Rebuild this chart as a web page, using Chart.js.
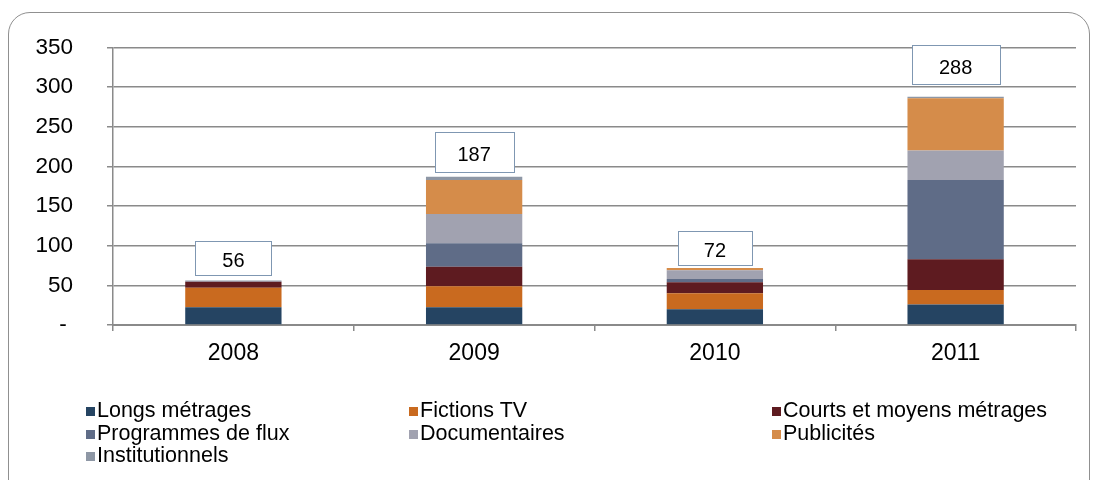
<!DOCTYPE html>
<html>
<head>
<meta charset="utf-8">
<script src="https://cdn.jsdelivr.net/npm/chart.js"></script>
<style>
  html, body { margin: 0; padding: 0; background: #fff; }
  #wrap { position: relative; width: 1093px; height: 480px; overflow: hidden; font-family: Arial, "Liberation Sans", sans-serif; }
  #frame { position: absolute; left: 8px; top: 12px; width: 1080px; height: 520px; border: 1.5px solid #909090; border-radius: 22px; }
  #chartBox { position: absolute; left: 0; top: 0; width: 1093px; height: 400px; }
  #legend { position: absolute; left: 86px; top: 399px; display: grid; grid-template-columns: 323px 363px auto; font-size: 21.5px; line-height: 22.5px; color: #000; }
  #legend span.sw { display: inline-block; width: 9px; height: 9px; margin-right: 2px; vertical-align: 1px; }
</style>
</head>
<body>
<div id="wrap">
  <div id="frame"></div>
  <div id="chartBox"><canvas id="chart" width="1093" height="400"></canvas></div>
  <div id="legend"></div>
</div>
<script>
var years = ['2008', '2009', '2010', '2011'];

var longsMetrages = [22.5, 22.5, 20, 26];
var fictionsTV = [24.5, 26.5, 20, 18];
var courtsMoyens = [7.5, 24.5, 14, 39];
var programmesFlux = [0.5, 29.5, 4, 100];
var documentaires = [0.5, 37, 11, 37];
var publicites = [0, 43, 3, 66];
var institutionnels = [0.5, 4, 0, 2];

var seriesNames = ['Longs métrages', 'Fictions TV', 'Courts et moyens métrages', 'Programmes de flux', 'Documentaires', 'Publicités', 'Institutionnels'];
var seriesData = [longsMetrages, fictionsTV, courtsMoyens, programmesFlux, documentaires, publicites, institutionnels];
var colors = ['#254462', '#C96A1F', '#5E1B20', '#5F6C87', '#A1A2B0', '#D58C4A', '#8E97A5'];

var totals = [56, 187, 72, 288];

var datasets = [];
seriesNames.forEach(function (name, i) {
    datasets.push({
        label: name,
        data: seriesData[i],
        backgroundColor: colors[i],
        borderWidth: 0,
        barPercentage: 0.4,
        categoryPercentage: 1
    });
});

// white boxes with the totals above each bar (sizes differ a bit per box, like the original)
var boxW = [76, 79, 74, 88],
    boxH = [34, 40, 34, 39],
    boxGap = [6, 5, 3, 13];
var totalBoxes = {
    id: 'totalBoxes',
    afterDatasetsDraw: function (chart) {
        var ctx = chart.ctx;
        var xs = chart.scales.x, ys = chart.scales.y;
        ctx.save();
        totals.forEach(function (t, i) {
            var cx = xs.getPixelForValue(i);
            var top = ys.getPixelForValue(t);
            var w = boxW[i], h = boxH[i];
            var bx = Math.round(cx - w / 2) + 0.5, by = Math.round(top - boxGap[i] - h) + 0.5;
            ctx.fillStyle = '#fff';
            ctx.fillRect(bx, by, w, h);
            ctx.strokeStyle = '#7F97B2';
            ctx.lineWidth = 1;
            ctx.strokeRect(bx, by, w, h);
            ctx.fillStyle = '#000';
            ctx.font = '20px Arial, "Liberation Sans", sans-serif';
            ctx.textAlign = 'center';
            ctx.textBaseline = 'middle';
            ctx.fillText(String(t), cx, by + h / 2 + 3);
        });
        ctx.restore();
    }
};

var ctx = document.getElementById('chart').getContext('2d');
var myChart = new Chart(ctx, {
    type: 'bar',
    data: { labels: years, datasets: datasets },
    options: {
        responsive: false,
        maintainAspectRatio: false,
        animation: false,
        layout: { padding: { left: 0, right: 17, top: 40, bottom: 0 } },
        plugins: { legend: { display: false }, tooltip: { enabled: false } },
        scales: {
            x: {
                stacked: true,
                afterFit: function (scale) { scale.height = 75; },
                grid: { display: true, drawOnChartArea: false, drawTicks: true, tickLength: 6, color: '#8a8a8a', lineWidth: 1.5 },
                border: { display: true, color: '#8a8a8a', width: 2 },
                ticks: { color: '#000', maxRotation: 0, font: { family: 'Arial, "Liberation Sans", sans-serif', size: 23 }, padding: 9 }
            },
            y: {
                stacked: true,
                min: 0,
                max: 350,
                afterFit: function (scale) { scale.width = 113; },
                grid: { color: '#8a8a8a', lineWidth: 1.5, tickLength: 6 },
                border: { display: true, color: '#8a8a8a', width: 1.5 },
                ticks: {
                    stepSize: 50,
                    color: '#000',
                    padding: 34,
                    font: { family: 'Arial, "Liberation Sans", sans-serif', size: 22.5 },
                    callback: function (v) { return v === 0 ? '- ' : v; }
                }
            }
        }
    },
    plugins: [totalBoxes]
});

// legend in three columns
var legend = document.getElementById('legend');
seriesNames.forEach(function (name, i) {
    var d = document.createElement('div');
    d.innerHTML = '<span class="sw" style="background:' + colors[i] + '"></span>' + name;
    legend.appendChild(d);
});
</script>
</body>
</html>
